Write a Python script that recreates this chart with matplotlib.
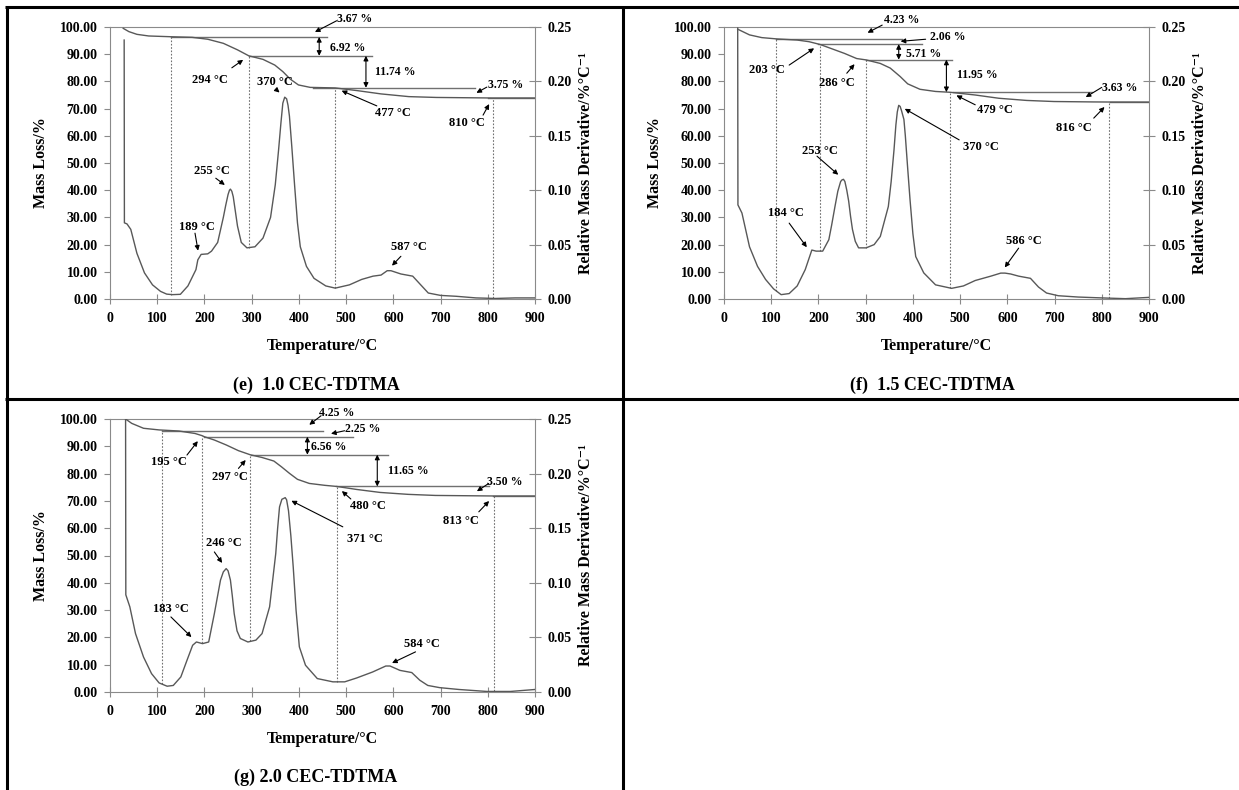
import numpy as np
import matplotlib.pyplot as plt
from matplotlib.lines import Line2D
from matplotlib.ticker import FormatStrFormatter

plt.rcParams['font.family'] = ['Liberation Serif', 'DejaVu Serif']
plt.rcParams['font.weight'] = 'bold'

W, H = 1239, 790
AXIS_GREY = '#8a8a8a'
CURVE_GREY = '#585858'
STEP_GREY = '#707070'
DTG_SCALE = 100 / 0.25   # right axis (0-0.25) mapped onto left axis (0-100)

# ---- (e) 1.0 CEC-TDTMA ----
E_TG_T = [28, 40, 57, 82, 132, 174, 207, 240, 270, 294, 324, 349, 366, 382, 399,
          424, 477, 524, 574, 633, 691, 810, 900]
E_TG = [99.5, 98.3, 97.3, 96.7, 96.4, 96.2, 95.5, 94.0, 91.6, 89.4, 88.1, 86.0, 83.6,
        80.8, 78.7, 77.8, 77.6, 76.6, 75.4, 74.4, 74.1, 73.9, 73.9]
E_DTG_T = [30, 30.5, 36, 44, 57, 73, 90, 107, 120, 132, 149, 165, 182, 186, 193, 207,
           215, 228, 240, 245, 250, 253, 255, 258, 261, 265, 270, 278, 290, 307, 324,
           340, 350, 357, 362, 366, 370, 374, 377, 380, 385, 391, 397, 403, 416, 432,
           457, 477, 507, 533, 557, 574, 587, 595, 616, 641, 658, 674, 700, 733, 775,
           816, 858, 900]
E_DTG = [0.238, 0.070, 0.069, 0.064, 0.042, 0.024, 0.013, 0.007, 0.0045, 0.004, 0.0043,
         0.012, 0.027, 0.036, 0.041, 0.0415, 0.044, 0.052, 0.075, 0.086, 0.096, 0.100,
         0.101, 0.099, 0.094, 0.082, 0.067, 0.052, 0.047, 0.048, 0.056, 0.075, 0.105,
         0.137, 0.162, 0.180, 0.1855, 0.184, 0.178, 0.168, 0.140, 0.104, 0.070, 0.048,
         0.030, 0.019, 0.012, 0.010, 0.013, 0.018, 0.021, 0.022, 0.026, 0.026, 0.023,
         0.021, 0.013, 0.0055, 0.0033, 0.0025, 0.001, 0.0005, 0.001, 0.001]
E_LOSSES = [3.67, 6.92, 11.74, 3.75]
E_STEP_START = [130, 294, 430, 801]
E_STEP_END = [460, 555, 773, 900]
E_DOTTED_T = [130, 294, 477, 810]
E_TEMP_LABELS = [294, 370, 477, 810, 255, 189, 587]
E_TEMP_CURVE = ['tg', 'dtg', 'tg', 'tg', 'dtg', 'dtg', 'dtg']

# ---- (f) 1.5 CEC-TDTMA ----
F_TG_T = [29, 54, 80, 113, 155, 180, 203, 222, 255, 281, 301, 331, 352, 373, 389, 415,
          448, 479, 532, 582, 641, 699, 783, 816, 900]
F_TG = [99.2, 97.1, 96.1, 95.6, 95.2, 94.6, 93.6, 92.4, 90.3, 88.4, 87.9, 86.6, 84.9,
        81.8, 79.1, 77.1, 76.3, 76.0, 75.0, 73.8, 73.0, 72.6, 72.45, 72.42, 72.4]
F_DTG_T = [29, 29.5, 38, 54, 71, 88, 105, 121, 138, 155, 172, 186, 195, 209, 222, 228,
           235, 241, 247, 250, 253, 256, 260, 264, 268, 272, 278, 285, 301, 318, 331,
           348, 354, 360, 364, 367, 370, 373, 376, 381, 384, 389, 394, 400, 406, 423,
           448, 482, 507, 532, 565, 586, 595, 607, 624, 649, 666, 683, 708, 750, 800,
           850, 900]
F_DTG = [0.249, 0.0865, 0.079, 0.048, 0.030, 0.018, 0.0093, 0.004, 0.005, 0.012, 0.027,
         0.045, 0.044, 0.044, 0.0545, 0.068, 0.085, 0.099, 0.108, 0.1095, 0.110, 0.108,
         0.100, 0.090, 0.076, 0.064, 0.053, 0.047, 0.047, 0.050, 0.0575, 0.085, 0.108,
         0.137, 0.160, 0.172, 0.178, 0.177, 0.173, 0.165, 0.150, 0.120, 0.091, 0.060,
         0.039, 0.024, 0.013, 0.0098, 0.012, 0.017, 0.021, 0.0238, 0.0238, 0.023, 0.021,
         0.019, 0.011, 0.0055, 0.003, 0.0018, 0.001, 0.0003, 0.0015]
F_LOSSES = [4.23, 2.06, 5.71, 11.95, 3.63]
F_STEP_START = [111, 198, 301, 484, 817]
F_STEP_END = [377, 419, 482, 779, 900]
F_DOTTED_T = [110, 203, 300, 479, 816]
F_TEMP_LABELS = [203, 286, 479, 816, 370, 253, 184, 586]
F_TEMP_CURVE = ['tg', 'tg', 'tg', 'tg', 'dtg', 'dtg', 'dtg', 'dtg']

# ---- (g) 2.0 CEC-TDTMA ----
G_TG_T = [33, 46, 71, 104, 146, 180, 195, 200, 221, 246, 272, 297, 322, 347, 363, 380,
          397, 422, 455, 480, 522, 572, 631, 689, 813, 900]
G_TG = [100.0, 98.4, 96.6, 96.0, 95.6, 94.7, 93.9, 93.5, 92.3, 90.5, 88.4, 86.9, 85.9,
        84.6, 82.5, 80.1, 77.9, 76.4, 75.7, 75.3, 74.2, 73.1, 72.4, 72.0, 71.8, 71.8]
G_DTG_T = [33, 33.5, 42, 54, 71, 88, 104, 121, 134, 150, 163, 175, 183, 196, 209, 221,
           234, 240, 246, 250, 255, 259, 263, 269, 276, 292, 309, 322, 338, 351, 355,
           359, 364, 368, 371, 374, 378, 383, 388, 394, 401, 414, 439, 472, 497, 522,
           556, 584, 593, 614, 639, 656, 673, 698, 739, 798, 848, 900]
G_DTG = [0.25, 0.089, 0.078, 0.0535, 0.032, 0.0168, 0.0083, 0.0053, 0.006, 0.0138,
         0.029, 0.0428, 0.0458, 0.0443, 0.0458, 0.0718, 0.1025, 0.110, 0.113, 0.111,
         0.1025, 0.088, 0.0718, 0.056, 0.049, 0.0458, 0.0475, 0.0535, 0.078, 0.1268,
         0.150, 0.1695, 0.1765, 0.1773, 0.178, 0.176, 0.166, 0.143, 0.1145, 0.075,
         0.0413, 0.0245, 0.0123, 0.0093, 0.0093, 0.0128, 0.0183, 0.0238, 0.0238, 0.0198,
         0.0178, 0.0108, 0.006, 0.004, 0.0023, 0.0005, 0.0005, 0.0023]
G_LOSSES = [4.25, 2.25, 6.56, 11.65, 3.50]
G_STEP_START = [110, 200, 298, 478, 812]
G_STEP_END = [451, 514, 589, 802, 900]
G_DOTTED_T = [110, 195, 297, 480, 813]
G_TEMP_LABELS = [195, 297, 480, 813, 371, 246, 183, 584]
G_TEMP_CURVE = ['tg', 'tg', 'tg', 'tg', 'dtg', 'dtg', 'dtg', 'dtg']

# annotation placement, (temperature, mass %) coordinates
# single-arrow loss labels: step index, text xy, arrow tail, arrow x
E_SINGLE = [(0, (519, 102.9), (480, 102.3), 434), (3, (838, 78.7), (798, 77.9), 776)]
# double-arrow loss labels: step index, text xy, arrow x
E_DOUBLE = [(1, (503, 92.3), 443), (2, (605, 83.6), 542)]
# temperature labels: text xy, arrow tail
E_TEMP_POS = [((212, 80.5), (258, 85.0)), ((349, 79.9), (352, 77.0)),
              ((600, 68.4), (565, 71.0)), ((756, 64.6), (790, 67.6)),
              ((215, 46.9), (224, 44.4)), ((184, 26.3), (180, 24.2)),
              ((633, 19.3), (616, 15.7))]

F_SINGLE = [(0, (377, 102.6), (335, 100.7), 304), (1, (473, 96.5), (427, 95.5), 374),
            (4, (838, 77.5), (800, 77.8), 766)]
F_DOUBLE = [(2, (423, 90.1), 370), (3, (536, 82.4), 471)]
F_TEMP_POS = [((90, 84.2), (138, 86.0)), ((239, 79.3), (260, 83.0)),
              ((574, 69.5), (532, 71.4)), ((741, 62.8), (783, 66.5)),
              ((544, 56.0), (498, 58.5)), ((204, 54.5), (197, 52.5)),
              ((131, 31.6), (138, 27.9)), ((634, 21.5), (624, 18.7))]

G_SINGLE = [(0, (479, 102.1), (447, 101.2), 422), (1, (535, 96.2), (497, 95.7), 468),
            (4, (835, 77.0), (802, 76.4), 777)]
G_DOUBLE = [(2, (464, 89.9), 418), (3, (631, 81.1), 566)]
G_TEMP_POS = [((125, 84.4), (163, 86.8)), ((253, 78.6), (272, 81.9)),
              ((547, 68.2), (510, 70.7)), ((744, 62.7), (781, 66.0)),
              ((539, 56.2), (493, 60.5)), ((242, 54.4), (221, 51.3)),
              ((128, 30.3), (129, 27.5)), ((660, 17.7), (647, 14.7))]


def px_rect(left, top, right, bottom):
    """Figure-fraction rectangle from pixel edges."""
    return [left / W, 1 - bottom / H, (right - left) / W, (bottom - top) / H]


def draw_panel(fig, rect, tg_t, tg, dtg_t, dtg, losses, step_start, step_end,
               dotted_t, singles, doubles, temp_labels, temp_curve, temp_pos):
    ax = fig.add_axes(rect)
    ax2 = ax.twinx()
    ax.set_xlim(0, 900)
    ax.set_ylim(0, 100)
    ax2.set_ylim(0, 0.25)
    ax.patch.set_alpha(0)

    ax.plot(tg_t, tg, color=CURVE_GREY, lw=1.0, zorder=3)
    ax2.plot(dtg_t, dtg, color=CURVE_GREY, lw=1.0, zorder=3)

    # step levels from the quoted losses
    levels = 100 - np.cumsum(losses)
    bounds = np.concatenate([[100], levels])
    for lev, x0, x1 in zip(levels, step_start, step_end):
        ax.plot([x0, x1], [lev, lev], color=STEP_GREY, lw=1.0, zorder=2)

    def tg_at(t):
        return np.interp(t, tg_t, tg)

    def dtg_at(t):
        return np.interp(t, dtg_t, dtg) * DTG_SCALE

    for t in dotted_t:
        ax.plot([t, t], [dtg_at(t), tg_at(t)], color=STEP_GREY, lw=0.8,
                ls=(0, (1.5, 1.5)), zorder=2)

    arrow = dict(arrowstyle='-|>', color='black', lw=0.8, mutation_scale=7,
                 shrinkA=0, shrinkB=0)
    for i, txy, tail, xa in singles:
        mid = (bounds[i] + bounds[i + 1]) / 2
        ax.annotate('', xy=(xa, mid), xytext=tail, arrowprops=arrow, zorder=5)
        ax.text(*txy, f'{losses[i]:.2f} %', fontsize=8.5, ha='center', va='center')
    for i, txy, xa in doubles:
        ax.annotate('', xy=(xa, bounds[i + 1]), xytext=(xa, bounds[i]),
                    arrowprops=dict(arrowstyle='<|-|>', color='black', lw=0.8,
                                    mutation_scale=7, shrinkA=0, shrinkB=0), zorder=5)
        ax.text(*txy, f'{losses[i]:.2f} %', fontsize=8.5, ha='center', va='center')

    for t, curve, (txy, tail) in zip(temp_labels, temp_curve, temp_pos):
        y = tg_at(t) if curve == 'tg' else dtg_at(t)
        ax.annotate('', xy=(t, y), xytext=tail,
                    arrowprops=dict(arrowstyle='-|>', color='black', lw=0.8,
                                    mutation_scale=7, shrinkA=0, shrinkB=5), zorder=5)
        ax.text(*txy, f'{t} °C', fontsize=9, ha='center', va='center')

    # axes styling
    ax.set_xticks(np.arange(0, 901, 100))
    ax.set_yticks(np.arange(0, 101, 10))
    ax2.set_yticks(np.arange(0, 0.251, 0.05))
    ax.yaxis.set_major_formatter(FormatStrFormatter('%.2f'))
    ax2.yaxis.set_major_formatter(FormatStrFormatter('%.2f'))
    for s in ['left', 'top', 'bottom']:
        ax.spines[s].set_color(AXIS_GREY)
        ax2.spines[s].set_visible(False)
    ax.spines['right'].set_visible(False)
    ax2.spines['right'].set_color(AXIS_GREY)
    ax.tick_params(axis='y', direction='out', length=4, color=AXIS_GREY,
                   labelsize=10, pad=5)
    ax.tick_params(axis='x', direction='inout', length=7, color=AXIS_GREY,
                   labelsize=10, pad=6)
    ax2.tick_params(axis='y', direction='inout', length=8, color=AXIS_GREY,
                    labelsize=10, pad=5)

    ax.text(0.5, -0.173, 'Temperature/°C', transform=ax.transAxes, fontsize=11.5,
            ha='center', va='center')
    ax.text(-0.163, 0.5, 'Mass Loss/%', transform=ax.transAxes, fontsize=11.5,
            rotation=90, ha='center', va='center')
    ax.text(1.12, 0.5, 'Relative Mass Derivative/%°C⁻¹', transform=ax.transAxes,
            fontsize=11.5, rotation=90, ha='center', va='center')
    return ax


fig = plt.figure(figsize=(W / 100, H / 100), dpi=100)

draw_panel(fig, px_rect(110, 27, 535, 299), E_TG_T, E_TG, E_DTG_T, E_DTG, E_LOSSES,
           E_STEP_START, E_STEP_END, E_DOTTED_T, E_SINGLE, E_DOUBLE,
           E_TEMP_LABELS, E_TEMP_CURVE, E_TEMP_POS)
draw_panel(fig, px_rect(724, 27, 1149, 299), F_TG_T, F_TG, F_DTG_T, F_DTG, F_LOSSES,
           F_STEP_START, F_STEP_END, F_DOTTED_T, F_SINGLE, F_DOUBLE,
           F_TEMP_LABELS, F_TEMP_CURVE, F_TEMP_POS)
draw_panel(fig, px_rect(110, 419, 535, 692), G_TG_T, G_TG, G_DTG_T, G_DTG, G_LOSSES,
           G_STEP_START, G_STEP_END, G_DOTTED_T, G_SINGLE, G_DOUBLE,
           G_TEMP_LABELS, G_TEMP_CURVE, G_TEMP_POS)


# table grid around the panels
def border(x0, y0, x1, y1):
    fig.add_artist(Line2D([x0 / W, x1 / W], [1 - y0 / H, 1 - y1 / H],
                          color='black', lw=2.2, solid_capstyle='butt'))


border(5, 7, W, 7)
border(6.5, 6, 6.5, H)
border(623, 6, 623, H)
border(5, 399, W, 399)

fig.text(316 / W, 1 - 385 / H, '(e)  1.0 CEC-TDTMA', fontsize=13, ha='center', va='center')
fig.text(932 / W, 1 - 385 / H, '(f)  1.5 CEC-TDTMA', fontsize=13, ha='center', va='center')
fig.text(316 / W, 1 - 777 / H, '(g) 2.0 CEC-TDTMA', fontsize=13, ha='center', va='center')

fig.savefig('out.png', dpi=100)
